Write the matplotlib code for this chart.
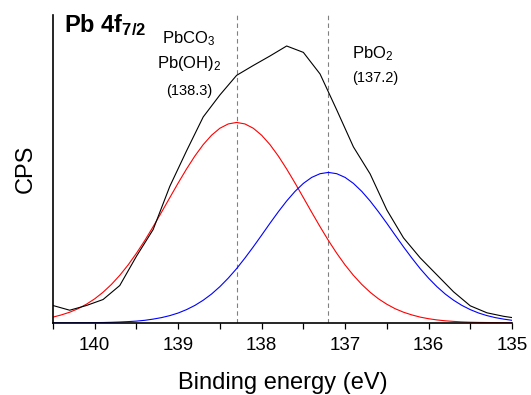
import matplotlib
matplotlib.use('Agg')
import matplotlib.pyplot as plt
import numpy as np

plt.rcParams['font.family'] = ['Liberation Sans', 'DejaVu Sans']
plt.rcParams['mathtext.fontset'] = 'custom'
plt.rcParams['mathtext.rm'] = 'Liberation Sans'
plt.rcParams['mathtext.it'] = 'Liberation Sans:italic'
plt.rcParams['mathtext.bf'] = 'Liberation Sans:bold'

# energie de liaison (eV) des courbes ajustees, de 140.5 a 135.0
energy_fit = np.round(np.arange(140.5, 134.95, -0.1), 1)

# composante PbCO3 / Pb(OH)2 (138.3 eV)
cps_pbco3 = [5.7, 7.9, 10.6, 14.1, 18.6, 24.0, 30.6, 38.4, 47.5, 57.9,
             69.6, 82.4, 96.2, 110.6, 125.3, 139.9, 153.9, 166.9, 178.3, 187.7,
             194.7, 199.0, 200.5, 199.0, 194.7, 187.7, 178.3, 166.9, 153.9, 139.9,
             125.3, 110.6, 96.2, 82.4, 69.6, 57.9, 47.5, 38.4, 30.6, 24.0,
             18.6, 14.1, 10.6, 7.9, 5.7, 4.1, 2.9, 2.0, 1.4, 0.9,
             0.6, 0.4, 0.3, 0.2, 0.1, 0.1]

# composante PbO2 (137.2 eV)
cps_pbo2 = [0.0, 0.0, 0.0, 0.1, 0.1, 0.2, 0.3, 0.5, 0.8, 1.2,
            1.7, 2.5, 3.7, 5.2, 7.2, 9.8, 13.2, 17.4, 22.6, 28.8,
            36.2, 44.7, 54.2, 64.8, 76.0, 87.7, 99.6, 111.1, 121.9, 131.5,
            139.5, 145.5, 149.2, 150.5, 149.2, 145.5, 139.5, 131.5, 121.9, 111.1,
            99.6, 87.7, 76.0, 64.8, 54.2, 44.7, 36.2, 28.8, 22.6, 17.4,
            13.2, 9.8, 7.2, 5.2, 3.7, 2.5]

# spectre mesure
energy_raw = [140.5, 140.3, 140.1, 139.9, 139.7, 139.5, 139.3, 139.1, 138.9, 138.7,
              138.5, 138.3, 138.1, 137.9, 137.7, 137.5, 137.3, 137.1, 136.9, 136.7,
              136.5, 136.3, 136.1, 135.9, 135.7, 135.5, 135.3, 135.1, 134.9]
cps_raw = [17.3, 12.6, 17.3, 23.3, 37.3, 66.6, 93.3, 136.6, 172.0, 206.0,
           228.0, 247.6, 257.5, 267.0, 277.0, 270.6, 249.0, 213.0, 176.0, 149.0,
           113.0, 85.0, 65.0, 48.0, 31.0, 17.0, 10.0, 6.5, 4.0]

peak_positions = [138.3, 137.2]

fig = plt.figure(figsize=(5.31, 3.95), dpi=100)
ax = fig.add_axes([0.0998, 0.1815, 0.8644, 0.7805])

for p in peak_positions:
    ax.axvline(p, color='0.5', lw=0.8, linestyle=(0, (4, 3)), zorder=1)

ax.plot(energy_raw, cps_raw, color='black', lw=0.8, zorder=3)
ax.plot(energy_fit, cps_pbco3, color='#ff0000', lw=0.8, zorder=2)
ax.plot(energy_fit, cps_pbo2, color='#0000ff', lw=0.8, zorder=2)

ax.set_xlim(140.5, 135)
ax.set_ylim(-0.5, 308)
ax.set_xticks([140, 139, 138, 137, 136, 135])
ax.set_xticks(np.arange(140.5, 134.9, -0.5), minor=True)
ax.set_yticks([])
ax.tick_params(axis='x', which='both', direction='out', length=4, width=0.9,
               labelsize=13.5, pad=6)

for s in ['top', 'right']:
    ax.spines[s].set_visible(False)
for s in ['left', 'bottom']:
    ax.spines[s].set_linewidth(1.2)

ax.set_xlabel('Binding energy (eV)', fontsize=17, labelpad=13)
ax.set_ylabel('CPS', fontsize=17, labelpad=12)

ax.text(140.37, 291, r'$\mathbf{Pb\ 4f_{7/2}}$', fontsize=17, ha='left', va='baseline')
ax.text(138.87, 280, r'PbCO$_3$', fontsize=12, ha='center', va='baseline')
ax.text(138.87, 255, r'Pb(OH)$_2$', fontsize=12, ha='center', va='baseline')
ax.text(138.87, 228, '(138.3)', fontsize=10.5, ha='center', va='baseline')
ax.text(136.92, 265, r'PbO$_2$', fontsize=12, ha='left', va='baseline')
ax.text(136.92, 241, '(137.2)', fontsize=10.5, ha='left', va='baseline')

fig.savefig('out.png', dpi=100)
